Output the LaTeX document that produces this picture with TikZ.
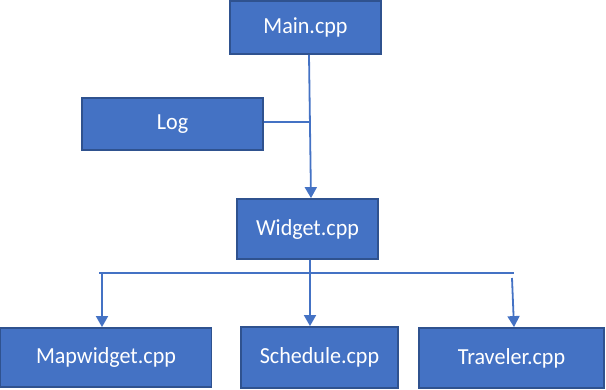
\documentclass[tikz,border=0pt]{standalone}
\usepackage{fontspec}
\setmainfont[FakeStretch=0.96]{Carlito}
\usetikzlibrary{arrows.meta}
\definecolor{boxfill}{HTML}{4472C4}
\definecolor{boxline}{HTML}{2F528F}
\definecolor{conn}{HTML}{4472C4}
\begin{document}
\begin{tikzpicture}[x=1pt,y=-1pt,
  blk/.style={draw=boxline,line width=1.8pt,fill=boxfill,text=white,inner sep=0pt,
    font=\fontsize{23}{25}\selectfont},
  conline/.style={draw=conn,line width=1.8pt},
  arr/.style={conline,-{Triangle[width=12pt,length=11pt]}}]
\useasboundingbox (0,0) rectangle (606,390);
\node[blk,minimum width=151pt,minimum height=53pt] (main) at (305.5,27.5) {Main.cpp};
\node[blk,minimum width=181pt,minimum height=52pt] (log) at (172.5,124) {Log};
\node[blk,minimum width=141pt,minimum height=60pt] (widget) at (307.5,229) {Widget.cpp};
\node[blk,minimum width=211pt,minimum height=59pt] (map) at (106,357.5) {Mapwidget.cpp};
\node[blk,minimum width=157pt,minimum height=61pt] (sched) at (319.5,357.5) {Schedule.cpp};
\node[blk,minimum width=185pt,minimum height=60pt] (trav) at (511.5,358) {Traveler.cpp};
\coordinate (j1) at (309,122);
\coordinate (hl) at (99,273);
\coordinate (hr) at (514,273);
\coordinate (tl) at (102,273);
\coordinate (tr) at (512,278);
\draw[arr] (main.south -| j1) -- (widget.north -| 311,0);
\draw[conline] (log.east |- j1) -- (j1);
\draw[conline] (hl) -- (hr);
\draw[arr] (widget.south -| 310,0) -- (sched.north -| 310,0);
\draw[arr] (tl) -- (map.north -| tl);
\draw[arr] (tr) -- (trav.north -| 514,0);
\end{tikzpicture}
\end{document}
